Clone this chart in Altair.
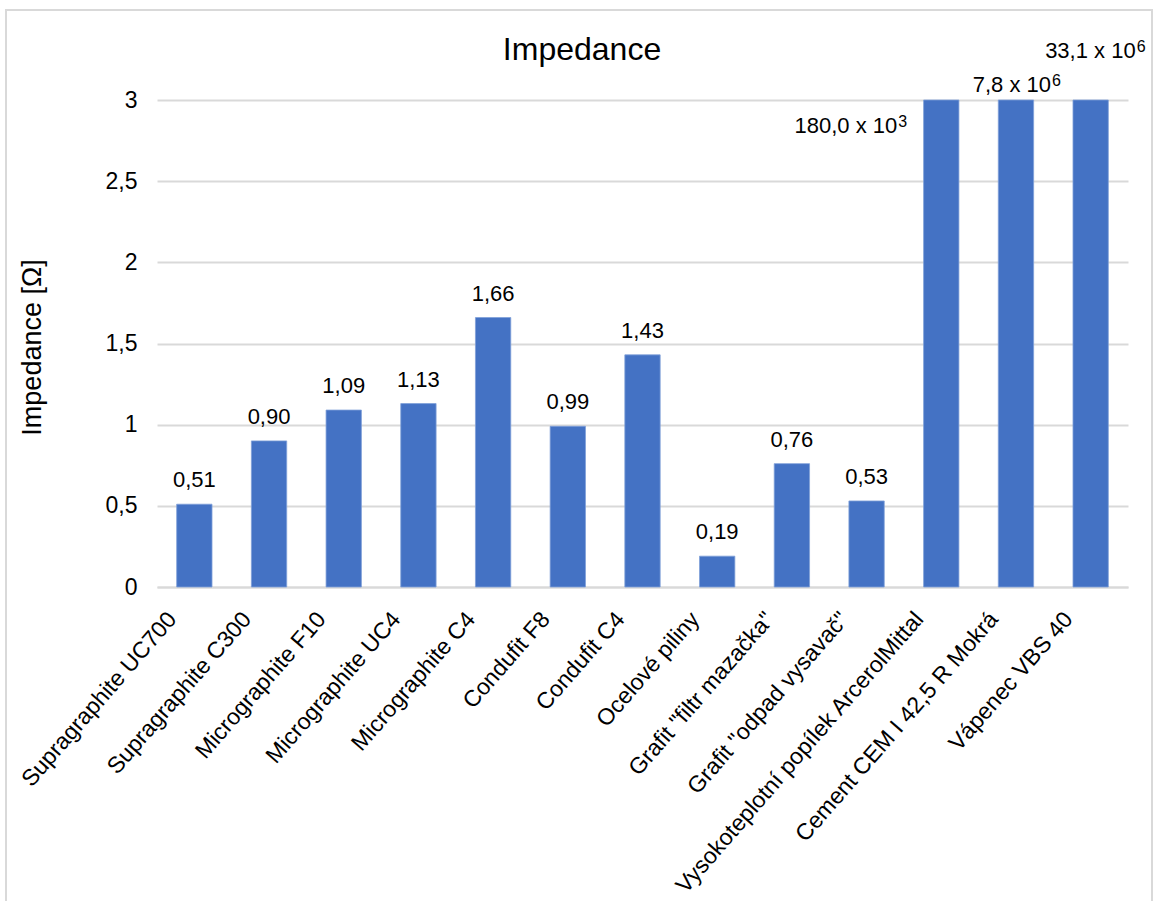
import altair as alt
import pandas as pd

categories = [
    "Supragraphite UC700", "Supragraphite C300", "Micrographite F10",
    "Micrographite UC4", "Micrographite C4", "Condufit F8", "Condufit C4",
    "Ocelové piliny", 'Grafit "filtr mazačka"', 'Grafit "odpad vysavač"',
    "Vysokoteplotní popílek ArcerolMittal", "Cement CEM I 42,5 R Mokrá",
    "Vápenec VBS 40",
]
values = [0.51, 0.90, 1.09, 1.13, 1.66, 0.99, 1.43, 0.19, 0.76, 0.53,
          180000.0, 7800000.0, 33100000.0]
labels = ["0,51", "0,90", "1,09", "1,13", "1,66", "0,99", "1,43", "0,19",
          "0,76", "0,53", "180,0 x 10", "7,8 x 10", "33,1 x 10"]
exponents = ["", "", "", "", "", "", "", "", "", "", "3", "6", "6"]
y_ticks = [0, 0.5, 1, 1.5, 2, 2.5, 3]
chart_title = "Impedance"

df = pd.DataFrame({"cat": categories, "value": values, "label": labels,
                   "exp": exponents, "idx": list(range(len(categories)))})

FONT = "Liberation Sans"
BLUE = "#4472C4"

x_enc = alt.X("cat:N", sort=categories, title=None,
              scale=alt.Scale(paddingInner=0.527, paddingOuter=0.2635),
              axis=alt.Axis(labelAngle=-49, labelAlign="right", labelBaseline="middle",
                            labelPadding=28, labelOffset=-22, labelFontSize=23,
                            labelFont=FONT, labelColor="#000000", ticks=False,
                            domainColor="#d9d9d9", domainWidth=2, labelLimit=600))
y_enc = alt.Y("value:Q", title="Impedance [Ω]",
              scale=alt.Scale(domain=[0, 3], clamp=True, nice=False),
              axis=alt.Axis(values=y_ticks,
                            labelExpr="replace(format(datum.value, '~g'), '.', ',')",
                            domain=False, ticks=False, gridColor="#d9d9d9", gridWidth=2,
                            labelFontSize=23, labelFont=FONT, labelColor="#000000",
                            labelPadding=20, titleFontSize=27, titleFont=FONT,
                            titleFontWeight="normal", titleColor="#000000",
                            titleX=-125, titleY=247, titleAngle=-90,
                            titleAlign="center", titleBaseline="middle"))

frame = alt.Chart(alt.Data(values=[{"t": chart_title}])).mark_rect(
    fillOpacity=0, stroke="#d9d9d9", strokeWidth=2
).encode(x=alt.value(-151), x2=alt.value(995), y=alt.value(-90), y2=alt.value(811))

title = alt.Chart(alt.Data(values=[{"t": chart_title}])).mark_text(
    font=FONT, fontSize=32, color="#000000", baseline="alphabetic", align="center"
).encode(x=alt.value(425), y=alt.value(-40), text="t:N")

base = alt.Chart(df)
bars = base.mark_bar(color=BLUE, stroke="#7f9fd8", strokeWidth=0.8).encode(x=x_enc, y=y_enc)

txt = dict(font=FONT, fontSize=22, color="#000000", baseline="alphabetic")
sup = dict(font=FONT, fontSize=16, color="#000000", baseline="alphabetic", align="left")
X = alt.X("cat:N", sort=categories)


def lbl(flt, field, **kw):
    return base.mark_text(**kw).encode(x=X, y="value:Q", text=f"{field}:N").transform_filter(flt)


t_norm = lbl("datum.idx < 10", "label", dy=-17, **txt)
t_11 = lbl("datum.idx == 10", "label", align="right", dx=-44, dy=33, **txt)
s_11 = lbl("datum.idx == 10", "exp", dx=-43, dy=27, **sup)
t_12 = lbl("datum.idx == 11", "label", align="right", dx=35, dy=-8, **txt)
s_12 = lbl("datum.idx == 11", "exp", dx=36, dy=-14, **sup)
t_13 = lbl("datum.idx == 12", "label", align="right", dx=45, dy=-42, **txt)
s_13 = lbl("datum.idx == 12", "exp", dx=46, dy=-48, **sup)

chart = alt.layer(frame, bars, t_norm, t_11, s_11, t_12, s_12, t_13, s_13, title).properties(
    width=971, height=487,
    autosize=alt.AutoSizeParams(type="none"),
    padding={"left": 157, "top": 100, "right": 25, "bottom": 314},
    background="white",
).configure_view(stroke=None)

chart.save("out.html", embed_options={"renderer": "svg", "actions": False})
